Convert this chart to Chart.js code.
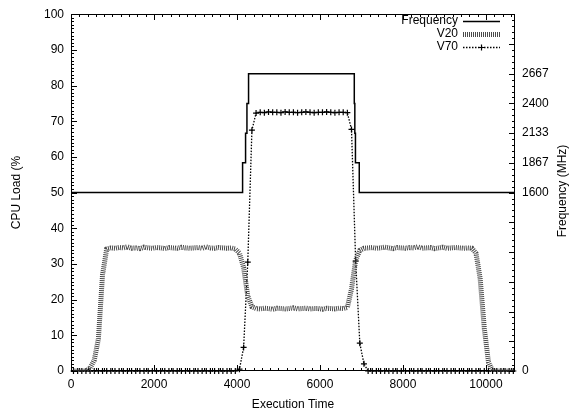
<!DOCTYPE html>
<html><head><meta charset="utf-8">
<script src="https://cdn.jsdelivr.net/npm/chart.js@4/dist/chart.umd.min.js"></script>
<style>html,body{margin:0;padding:0;background:#fff}canvas{display:block}</style>
</head><body>
<canvas id="c" width="574" height="416"></canvas>
<script>
// ---- data ----
const time = [60,160,260,360,460,560,660,760,860,960,
 1060,1160,1260,1360,1460,1560,1660,1760,1860,1960,
 2060,2160,2260,2360,2460,2560,2660,2760,2860,2960,
 3060,3160,3260,3360,3460,3560,3660,3760,3860,3960,
 4060,4160,4260,4360,4460,4560,4660,4760,4860,4960,
 5060,5160,5260,5360,5460,5560,5660,5760,5860,5960,
 6060,6160,6260,6360,6460,6560,6660,6760,6860,6960,
 7060,7160,7260,7360,7460,7560,7660,7760,7860,7960,
 8060,8160,8260,8360,8460,8560,8660,8760,8860,8960,
 9060,9160,9260,9360,9460,9560,9660,9760,9860,9960,
 10060,10160,10260,10360,10460,10560,10660];
const v20 = [0,0,0,0,0.8,3,9,27,34.2,34.5,
 34.4,34.6,34.5,34.8,34.4,34.5,34.3,34.7,34.5,34.4,
 34.6,34.5,34.3,34.6,34.5,34.4,34.7,34.5,34.4,34.5,
 34.6,34.4,34.8,34.5,34.4,34.6,34.5,34.4,34.5,34.2,
 33,29,21,18,17.5,17.4,17.6,17.5,17.3,17.6,
 17.5,17.4,17.5,17.7,17.4,17.5,17.6,17.4,17.5,17.5,
 17.3,17.6,17.5,17.4,17.6,17.5,17.8,23,31,33.8,
 34.4,34.5,34.6,34.4,34.5,34.7,34.5,34.3,34.6,34.5,
 34.4,34.6,34.5,34.8,34.4,34.5,34.6,34.3,34.5,34.7,
 34.4,34.5,34.6,34.5,34.4,34.5,34.4,33,26,12,
 2.5,0,0,0,0,0,0];
const v70 = [0,0,0,0,0,0,0,0,0,0,
 0,0,0,0,0,0,0,0,0,0,
 0,0,0,0,0,0,0,0,0,0,
 0,0,0,0,0,0,0,0,0,0,
 0.5,6.6,30.5,67.5,72.3,72.5,72.4,72.6,72.5,72.5,
 72.4,72.6,72.5,72.5,72.4,72.5,72.6,72.5,72.4,72.5,
 72.5,72.6,72.5,72.4,72.5,72.5,72.4,67.7,30.8,7.8,
 2,0,0,0,0,0,0,0,0,0,
 0,0,0,0,0,0,0,0,0,0,
 0,0,0,0,0,0,0,0,0,0,
 0,0,0,0,0,0,0];
const freqTime = [0,4135,4207,4240,4279,6827,6840,6855,6947,10700];
const freqMHz  = [1600,1867,2133,2400,2667,2400,2133,1867,1600,1600];
const xTicks = [0,2000,4000,6000,8000,10000];
const yTicks = [0,10,20,30,40,50,60,70,80,90,100];
const y2TickValues = [0,1600,1867,2133,2400,2667];
const y2TickLabels = ['0','1600','1867','2133','2400','2667'];
const seriesNames = ['Frequency','V20','V70'];

const FONT_FAMILY = '"Liberation Sans", Arial, Helvetica, sans-serif';
const FS = 12;
Chart.defaults.font.family = FONT_FAMILY;
Chart.defaults.font.size = FS;
Chart.defaults.color = '#000';

const framePlugin = {
  id: 'frame',
  beforeDatasetsDraw(chart) {
    const {ctx, chartArea: a, scales: {x, y, y2}} = chart;
    const L = Math.round(a.left), R = Math.round(a.right), T = Math.round(a.top), B = Math.round(a.bottom);
    ctx.save();
    ctx.strokeStyle = '#000';
    ctx.lineWidth = 1;
    ctx.strokeRect(L + 0.5, T + 0.5, R - L - 1, B - T - 1);
    ctx.beginPath();
    for (let v = 0; v <= 100; v += 1) {
      const py = Math.round(y.getPixelForValue(v)) + 0.5;
      const len = v % 10 === 0 ? 6 : 3;
      ctx.moveTo(L, py); ctx.lineTo(L + len, py);
    }
    for (let v = 0; v <= 10700; v += 200) {
      const px = Math.round(x.getPixelForValue(v)) + 0.5;
      const len = v % 2000 === 0 ? 6 : 3;
      ctx.moveTo(px, B); ctx.lineTo(px, B - len);
      ctx.moveTo(px, T); ctx.lineTo(px, T + len);
    }
    for (let k = 0; k <= 60; k++) {
      const py = Math.round(y2.getPixelForValue(k * 3200 / 60)) + 0.5;
      const len = k % 5 === 0 ? 6 : 3;
      ctx.moveTo(R, py); ctx.lineTo(R - len, py);
    }
    ctx.stroke();
    ctx.restore();
  },
  afterDraw(chart) {
    const {ctx} = chart;
    ctx.save();
    ctx.font = FS + 'px ' + FONT_FAMILY;
    ctx.fillStyle = '#000';
    ctx.translate(563, 191);
    ctx.rotate(-Math.PI / 2);
    ctx.textAlign = 'center';
    ctx.textBaseline = 'middle';
    ctx.fillText('Frequency (MHz)', 0, 0);
    ctx.restore();
    // legend
    ctx.save();
    ctx.font = FS + 'px ' + FONT_FAMILY;
    ctx.fillStyle = '#000';
    ctx.textAlign = 'right';
    ctx.textBaseline = 'middle';
    const rows = [21, 34, 47];
    const x0 = 463, x1 = 500, tx = 458;
    chart.data.datasets.forEach((ds, i) => {
      const yy = rows[i];
      ctx.fillText(seriesNames[i], tx, yy);
      ctx.save();
      ctx.strokeStyle = ds.borderColor;
      ctx.lineWidth = ds.borderWidth;
      ctx.setLineDash(ds.borderDash || []);
      ctx.beginPath();
      ctx.moveTo(x0, yy + 0.5); ctx.lineTo(x1, yy + 0.5);
      ctx.stroke();
      if (ds.pointRadius > 0) {
        ctx.setLineDash([]);
        ctx.lineWidth = ds.pointBorderWidth;
        const cx = (x0 + x1) / 2, r = ds.pointRadius;
        ctx.beginPath();
        ctx.moveTo(cx - r, yy + 0.5); ctx.lineTo(cx + r, yy + 0.5);
        ctx.moveTo(cx, yy - r + 0.5); ctx.lineTo(cx, yy + r + 0.5);
        ctx.stroke();
      }
      ctx.restore();
    });
    ctx.restore();
  }
};

new Chart(document.getElementById('c'), {
  type: 'line',
  data: {
    datasets: [
      { label: seriesNames[0], data: freqTime.map((t, i) => ({x: t, y: freqMHz[i]})), yAxisID: 'y2',
        stepped: true, borderColor: '#000', borderWidth: 1.5, pointRadius: 0, fill: false },
      { label: seriesNames[1], data: time.map((t, i) => ({x: t, y: v20[i]})), yAxisID: 'y',
        borderColor: '#4a4a4a', borderWidth: 5, borderDash: [1, 1], pointRadius: 0, fill: false },
      { label: seriesNames[2], data: time.map((t, i) => ({x: t, y: v70[i]})), yAxisID: 'y',
        borderColor: '#000', borderWidth: 1.3, borderDash: [1.5, 1.5], pointStyle: 'cross',
        pointRadius: 3, pointBorderWidth: 1.2, pointBorderColor: '#000', fill: false, clip: false }
    ]
  },
  options: {
    responsive: false, animation: false, events: [],
    layout: { padding: { top: 10, left: 0, right: 0, bottom: 0 } },
    plugins: { legend: { display: false }, tooltip: { enabled: false } },
    scales: {
      x: { type: 'linear', min: 0, max: 10700,
        afterBuildTicks: s => { s.ticks = xTicks.map(v => ({value: v})); },
        ticks: { padding: 6, maxRotation: 0, callback: v => String(v) },
        grid: { display: false, drawTicks: false }, border: { display: false },
        title: { display: true, text: 'Execution Time', padding: { top: 0, bottom: 4 } },
        afterFit: s => { s.height = 45; } },
      y: { type: 'linear', position: 'left', min: 0, max: 100,
        afterBuildTicks: s => { s.ticks = yTicks.map(v => ({value: v})); },
        ticks: { padding: 7 },
        grid: { display: false, drawTicks: false }, border: { display: false },
        title: { display: true, text: 'CPU Load (%', padding: { top: 9, bottom: 0 } },
        afterFit: s => { s.width = 71; } },
      y2: { type: 'linear', position: 'right', min: 0, max: 3200,
        afterBuildTicks: s => { s.ticks = y2TickValues.map(v => ({value: v})); },
        ticks: { padding: 7, callback: (v, i) => y2TickLabels[i] },
        grid: { display: false, drawTicks: false }, border: { display: false },
        afterFit: s => { s.width = 59; } }
    }
  },
  plugins: [framePlugin]
});
</script>
</body></html>
